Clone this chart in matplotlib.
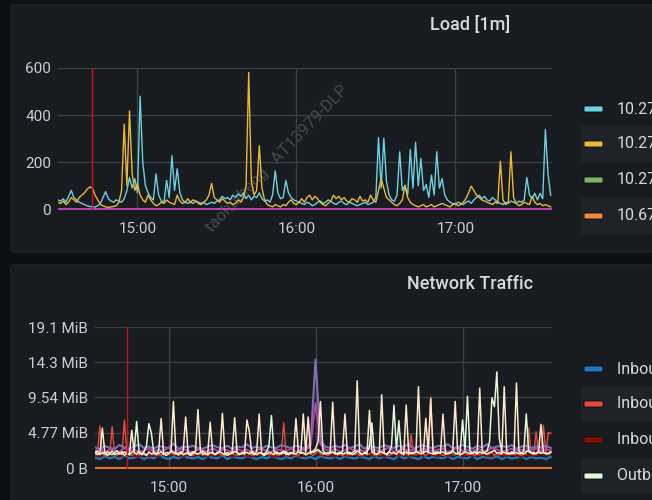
import matplotlib
matplotlib.use("Agg")
import matplotlib.pyplot as plt
from matplotlib.patches import FancyBboxPatch, Rectangle

plt.rcParams['font.family'] = ['Roboto', 'DejaVu Sans']

# ---------------- data ----------------
# time axis in minutes after 14:00
time_ticks = [60, 120, 180]
time_labels = ['15:00', '16:00', '17:00']
annotation_time = 43
x_range = [30, 216.5]

load_times = list(range(30, 217))
load_cyan = [
    40, 35, 45, 30, 55, 80, 50, 40, 30, 25,
    20, 15, 12, 10, 10, 15, 25, 50, 75, 45,
    35, 30, 40, 35, 30, 45, 80, 135, 90, 130,
    70, 480, 200, 100, 70, 50, 40, 150, 60, 35,
    30, 123, 50, 228, 80, 172, 70, 40, 30, 25,
    30, 25, 35, 30, 25, 30, 20, 25, 30, 25,
    35, 40, 55, 45, 50, 40, 60, 50, 65, 55,
    70, 45, 60, 40, 55, 50, 70, 45, 35, 40,
    30, 60, 163, 70, 45, 50, 123, 70, 50, 40,
    35, 30, 25, 20, 30, 25, 15, 20, 30, 35,
    25, 30, 40, 35, 25, 20, 30, 35, 25, 20,
    30, 25, 20, 15, 20, 25, 30, 20, 25, 30,
    50, 305, 90, 302, 120, 60, 40, 35, 60, 244,
    80, 102, 60, 254, 90, 284, 100, 216, 80, 105,
    50, 145, 60, 244, 90, 130, 60, 40, 30, 25,
    20, 30, 25, 20, 30, 35, 25, 40, 50, 60,
    45, 55, 40, 35, 50, 40, 30, 25, 20, 30,
    25, 35, 30, 25, 35, 30, 40, 135, 60, 45,
    68, 40, 68, 45, 339, 150, 60]
load_yellow = [
    30, 25, 35, 20, 30, 50, 40, 30, 50, 60,
    70, 85, 95, 90, 60, 40, 20, 15, 10, 8,
    10, 12, 15, 30, 80, 362, 100, 418, 150, 80,
    110, 60, 40, 30, 60, 40, 25, 15, 20, 30,
    25, 40, 30, 25, 20, 60, 35, 25, 30, 45,
    30, 40, 35, 25, 20, 30, 40, 60, 110, 50,
    40, 30, 45, 35, 25, 30, 20, 25, 40, 30,
    50, 100, 581, 120, 60, 80, 270, 90, 40, 20,
    15, 10, 20, 15, 10, 20, 15, 30, 40, 25,
    20, 30, 45, 30, 50, 60, 40, 55, 45, 30,
    20, 15, 25, 35, 60, 45, 55, 40, 50, 35,
    30, 45, 40, 30, 55, 35, 40, 30, 60, 40,
    30, 80, 130, 90, 50, 40, 30, 20, 15, 25,
    40, 100, 50, 30, 20, 15, 10, 15, 20, 10,
    15, 20, 10, 15, 20, 25, 20, 15, 10, 20,
    25, 15, 20, 30, 45, 70, 98, 80, 60, 50,
    40, 35, 30, 25, 20, 30, 25, 204, 40, 20,
    30, 244, 50, 25, 15, 20, 30, 25, 20, 55,
    30, 20, 25, 15, 20, 15, 10]
flat_times = [30, 60, 90, 120, 150, 180, 216]
load_green = [0, 0, 0, 0, 0, 0, 0]
load_orange = [0, 0, 0, 0, 0, 0, 0]
load_blue = [0.5, 0.5, 0.5, 0.5, 0.5, 0.5, 0.5]
load_pink = [2, 2, 2, 2, 2, 2, 2]
load_yticks = [0, 200, 400, 600]
load_legend = ['10.27.10.21:9100', '10.27.10.22:9100', '10.27.10.23:9100', '10.67.10.24:9100']

# network traffic (MiB/s)
net_times_1m = list(range(30, 217))
net_times_2m = list(range(30, 217, 2))
net_cream = [
    2.2, 1.8, 2.0, 5.4, 2.1, 1.7, 1.9, 2.3, 1.8, 2.0,
    1.9, 2.2, 1.7, 2.0, 1.8, 5.1, 2.1, 1.9, 2.3, 1.8,
    2.0, 1.7, 2.2, 1.9, 2.1, 1.8, 2.4, 6.7, 2.0, 1.7,
    1.9, 2.2, 9.0, 2.1, 1.8, 2.0, 2.3, 6.9, 1.9, 1.7,
    2.0, 2.2, 7.9, 2.4, 1.8, 2.0, 1.9, 6.2, 2.1, 1.8,
    2.0, 2.3, 7.4, 2.0, 1.7, 1.9, 2.2, 6.8, 2.0, 1.8,
    2.1, 1.9, 6.5, 4.9, 2.0, 1.8, 2.2, 7.3, 2.0, 1.7,
    1.9, 2.1, 2.0, 1.8, 2.2, 2.0, 1.9, 2.3, 1.8, 2.0,
    2.1, 1.9, 6.7, 2.2, 2.0, 7.3, 2.1, 6.9, 2.0, 2.3,
    2.6, 3.5, 9.0, 2.4, 2.0, 1.9, 2.2, 8.9, 2.1, 1.8,
    2.0, 2.2, 7.3, 2.0, 1.9, 2.1, 2.3, 11.8, 2.0, 1.8,
    2.1, 1.9, 7.8, 2.2, 2.0, 1.8, 2.1, 9.9, 2.0, 1.9,
    2.2, 2.0, 2.1, 1.9, 2.3, 2.0, 1.8, 8.5, 2.1, 1.9,
    2.0, 2.2, 11.0, 2.3, 2.0, 6.7, 2.1, 9.4, 2.0, 1.9,
    2.2, 2.0, 7.3, 2.1, 1.9, 2.0, 2.3, 9.0, 2.1, 1.8,
    2.0, 2.2, 2.1, 1.9, 2.0, 2.2, 2.1, 10.8, 2.3, 2.0,
    1.9, 2.1, 2.2, 2.4, 2.0, 2.1, 1.9, 11.0, 2.2, 2.0,
    1.9, 2.1, 11.5, 2.3, 2.0, 1.9, 2.2, 2.4, 2.1, 1.9,
    2.0, 2.2, 5.9, 2.1, 2.0, 1.9, 2.1]
net_green = [
    2.0, 2.3, 1.8, 2.1, 1.9, 2.2, 2.0, 1.8, 2.1, 2.3,
    2.0, 1.9, 2.2, 2.0, 1.8, 2.1, 2.3, 6.3, 2.0, 1.9,
    2.2, 3.0, 6.0, 4.7, 2.1, 1.9, 2.0, 2.2, 1.8, 2.1,
    2.0, 2.3, 2.1, 1.9, 2.0, 2.2, 1.8, 2.0, 2.1, 1.9,
    2.2, 2.0, 1.9, 2.1, 2.3, 2.0, 1.8, 2.1, 2.0, 1.9,
    2.1, 2.2, 2.0, 1.8, 2.1, 1.9, 2.0, 2.2, 2.1, 1.9,
    2.0, 2.2, 2.1, 1.9, 2.3, 2.0, 1.8, 2.1, 2.0, 1.9,
    2.2, 3.0, 7.1, 2.3, 2.0, 1.9, 2.1, 2.0, 2.2, 1.8,
    2.1, 2.0, 1.9, 2.2, 2.0, 2.1, 1.8, 2.0, 2.2, 2.1,
    2.3, 2.5, 2.2, 2.0, 1.9, 2.1, 2.0, 2.2, 1.9, 2.0,
    2.1, 1.9, 2.0, 2.2, 2.1, 1.8, 2.0, 2.3, 2.1, 1.9,
    2.0, 2.2, 2.8, 6.1, 2.0, 1.9, 2.1, 2.2, 2.0, 1.8,
    2.1, 3.0, 8.5, 2.4, 6.4, 2.1, 2.0, 2.2, 1.9, 2.1,
    2.0, 2.2, 2.1, 1.9, 2.0, 2.3, 2.1, 2.0, 1.9, 2.2,
    2.0, 2.1, 2.2, 1.9, 2.0, 2.1, 2.3, 2.0, 1.9, 2.1,
    6.5, 2.4, 9.7, 2.3, 2.0, 2.1, 1.9, 2.2, 2.0, 2.1,
    2.3, 3.5, 9.5, 8.3, 13.0, 4.0, 2.2, 2.1, 2.0, 1.9,
    2.2, 2.0, 2.1, 1.9, 2.0, 2.3, 7.3, 2.2, 2.0, 2.1,
    1.9, 2.2, 2.0, 2.1, 1.9, 2.0, 2.2]
net_red = [
    1.8, 2.0, 5.7, 1.9, 1.7, 2.0, 1.8, 5.6, 1.9, 1.7,
    2.0, 1.8, 6.5, 2.1, 1.9, 1.7, 2.0, 1.8, 1.9, 2.1,
    1.8, 1.7, 2.0, 1.9, 1.8, 2.1, 1.9, 1.7, 2.0, 1.8,
    1.9, 2.1, 1.8, 2.0, 1.7, 1.9, 2.0, 1.8, 2.1, 1.9,
    1.7, 2.0, 1.8, 1.9, 2.1, 1.8, 1.7, 2.0, 1.9, 1.8,
    2.0, 1.9, 1.7, 1.8, 2.0, 2.1, 1.9, 1.8, 1.7, 2.0,
    1.9, 1.8, 2.1, 2.0, 1.7, 1.9, 1.8, 2.0, 1.9, 1.7,
    2.0, 1.8, 1.9, 2.1, 1.8, 1.7, 2.0, 6.1, 1.9, 1.8,
    1.9, 2.0, 1.8, 1.7, 2.1, 1.9, 1.8, 2.0, 1.9, 1.7,
    2.0, 2.4, 1.9, 1.8, 2.0, 1.7, 1.9, 2.1, 1.8, 2.0,
    1.9, 1.7, 2.0, 1.8, 1.9, 2.1, 1.8, 2.0, 1.7, 1.9,
    2.0, 1.8, 1.9, 2.1, 1.7, 2.0, 1.8, 1.9, 2.0, 1.8,
    1.7, 1.9, 2.0, 1.8, 2.1, 1.9, 1.8, 2.0, 1.7, 4.5,
    1.9, 1.8, 2.0, 2.1, 1.9, 1.7, 2.0, 9.6, 1.9, 1.8,
    2.0, 1.9, 1.7, 1.8, 2.0, 2.1, 1.9, 1.8, 2.0, 1.7,
    1.9, 2.0, 1.8, 2.1, 1.9, 1.7, 2.0, 1.8, 1.9, 2.0,
    1.8, 1.9, 2.1, 1.7, 2.0, 1.8, 1.9, 2.0, 1.8, 1.9,
    2.0, 1.8, 1.9, 2.1, 1.7, 2.0, 1.9, 5.4, 2.0, 1.8,
    4.9, 2.0, 2.1, 5.8, 1.9, 4.8, 4.7]
net_blue = [
    1.4, 1.2, 1.6, 1.3, 1.5, 1.2, 1.7, 1.3, 1.4, 1.6,
    1.2, 1.5, 1.3, 1.8, 1.4, 1.2, 1.5, 1.3, 1.6, 1.4,
    1.3, 1.5, 1.2, 1.6, 1.4, 1.3, 1.7, 1.2, 1.5, 1.4,
    1.3, 1.6, 1.4, 1.2, 1.5, 1.3, 1.6, 1.4, 1.2, 1.5,
    1.3, 1.7, 1.4, 1.3, 1.5, 1.2, 1.6, 1.4, 1.3, 1.5,
    1.2, 1.6, 1.4, 1.3, 1.5, 1.4, 1.2, 1.6, 1.3, 1.5,
    1.4, 1.2, 1.7, 1.3, 1.5, 1.4, 1.2, 1.6, 1.3, 1.5,
    1.4, 1.3, 1.6, 1.2, 1.5, 1.4, 1.3, 1.7, 1.2, 1.5,
    1.4, 1.3, 1.6, 1.2, 1.5, 1.3, 1.4, 1.6, 1.2, 1.5,
    1.3, 1.4, 1.2, 1.5]
net_darkred = [
    1.7, 1.5, 1.8, 1.6, 1.9, 1.5, 1.7, 1.8, 1.6, 1.5,
    1.8, 1.6, 1.7, 1.5, 1.9, 1.6, 1.8, 1.7, 1.5, 1.8,
    1.6, 1.9, 1.7, 1.5, 1.8, 1.6, 1.7, 1.9, 1.5, 1.7,
    1.8, 1.6, 1.5, 1.8, 1.7, 1.9, 1.6, 1.5, 1.8, 1.7,
    1.6, 1.8, 1.5, 1.7, 1.9, 2.2, 1.8, 1.6, 1.7, 1.5,
    1.8, 1.7, 1.6, 1.9, 1.5, 1.8, 1.7, 1.6, 1.8, 1.5,
    1.7, 1.9, 1.6, 1.8, 1.5, 1.7, 1.8, 1.6, 1.9, 1.7,
    1.5, 1.8, 1.6, 1.7, 1.9, 1.5, 1.8, 1.6, 1.7, 1.8,
    1.6, 1.5, 1.9, 1.7, 1.6, 1.8, 1.7, 1.5, 1.8, 1.6,
    1.7, 1.9, 1.6, 1.8]
net_magenta = [
    2.3, 2.6, 2.1, 2.5, 2.4, 2.2, 2.7, 2.3, 2.5, 2.1,
    2.4, 2.6, 2.2, 2.5, 2.3, 2.8, 2.2, 2.4, 2.6, 2.3,
    2.1, 2.5, 2.4, 2.2, 2.7, 2.3, 2.5, 2.4, 2.2, 2.6,
    2.3, 2.5, 2.1, 2.4, 2.6, 2.3, 2.2, 2.5, 2.4, 2.3,
    2.6, 2.2, 2.5, 2.4, 3.0, 8.8, 3.2, 2.5, 2.3, 2.6,
    2.2, 2.4, 2.7, 2.3, 2.5, 2.2, 2.6, 2.4, 2.3, 2.5,
    2.8, 2.2, 2.4, 2.6, 2.3, 2.5, 2.2, 2.7, 2.4, 2.3,
    2.5, 2.6, 2.2, 2.4, 2.8, 2.3, 2.5, 2.2, 2.6, 2.4,
    2.3, 2.7, 2.5, 2.2, 2.4, 2.6, 2.3, 2.5, 2.2, 2.4,
    2.6, 2.3, 2.5, 2.4]
net_purple = [
    2.8, 2.5, 3.0, 2.7, 2.6, 3.1, 2.8, 2.6, 2.9, 3.2,
    2.7, 2.9, 2.6, 3.0, 2.8, 2.7, 3.3, 2.6, 2.9, 2.8,
    3.0, 2.7, 2.6, 2.9, 3.1, 2.8, 2.7, 3.0, 2.6, 2.9,
    2.8, 3.2, 2.7, 2.9, 2.6, 3.0, 2.8, 2.7, 3.1, 2.9,
    2.7, 3.0, 2.8, 2.6, 3.4, 14.7, 3.6, 2.9, 2.7, 3.0,
    2.8, 3.1, 2.7, 2.9, 3.2, 2.6, 3.0, 2.8, 2.7, 3.1,
    2.9, 2.7, 3.0, 2.8, 3.3, 2.6, 2.9, 3.1, 2.8, 2.7,
    3.0, 2.9, 3.2, 2.7, 2.8, 3.1, 2.9, 2.6, 3.0, 2.8,
    3.2, 2.7, 2.9, 3.0, 2.8, 3.1, 2.6, 2.9, 3.0, 2.7,
    2.9, 2.8, 3.0, 2.7]
net_orange = [0, 0, 0, 0, 0, 0, 0]
net_yticks = [0, 4.768, 9.537, 14.305, 19.073]
net_ylabels = ['0 B', '4.77 MiB', '9.54 MiB', '14.3 MiB', '19.1 MiB']
net_legend = ['Inbound: eth0', 'Inbound: eth1', 'Inbound: lo', 'Outbound: eth0']

# ---------------- style ----------------
W, H = 652, 500
BG = '#0e0f12'
PANEL = '#181b1f'
ROWBG = '#1f2226'
GRID = '#3d4045'
TXT = '#c7d0d9'
TITLE = '#d8d9da'
ANN = '#c4161c'

fig = plt.figure(figsize=(W / 100, H / 100), dpi=100)
fig.patch.set_facecolor(BG)
inch = fig.dpi_scale_trans


def fx(x):
    return x / W


def fy(y):
    return 1 - y / H


def panel(top, bottom):
    p = FancyBboxPatch((11 / 100, (H - bottom) / 100), 7.0, (bottom - top) / 100,
                       boxstyle='round,pad=0,rounding_size=0.03', transform=inch,
                       facecolor=PANEL, edgecolor='#24272c', linewidth=0.8, zorder=-5)
    fig.patches.append(p)


panel(5, 252)
panel(265, 520)

fig.text(fx(470), fy(25), 'Load [1m]', color=TITLE, fontsize=13, fontweight='medium',
         ha='center', va='center')
fig.text(fx(470), fy(284), 'Network Traffic', color=TITLE, fontsize=13, fontweight='medium',
         ha='center', va='center')

# watermark
fig.text(fx(277), fy(159), 'taohuiheng   AT13979-DLP', color='#6a6c70', alpha=0.55,
         fontsize=12, rotation=46, ha='center', va='center', zorder=-1,
         rotation_mode='anchor')


def style_axes(ax):
    ax.set_facecolor('none')
    for s in ax.spines.values():
        s.set_visible(False)
    ax.grid(True, color=GRID, linewidth=0.9)
    ax.set_axisbelow(True)
    ax.tick_params(length=0, colors=TXT, labelsize=11)
    ax.set_xticks(time_ticks)
    ax.set_xticklabels(time_labels)
    ax.set_xlim(*x_range)
    ax.tick_params(axis='x', pad=8.5)
    ax.tick_params(axis='y', pad=5)


# ---- Load panel
ax1 = fig.add_axes([fx(58), fy(210), (552 - 58) / W, (210 - 68) / H])
style_axes(ax1)
ax1.set_ylim(-3, 600)
ax1.set_yticks(load_yticks)
ax1.plot(flat_times, load_green, color='#7EB26D', lw=1.2)
ax1.plot(flat_times, load_orange, color='#EF843C', lw=1.2)
ax1.plot(flat_times, load_blue, color='#1F78C1', lw=1.2)
ax1.plot(flat_times, load_pink, color='#BA43A9', lw=1.4)
ax1.plot(load_times, load_cyan, color='#6ED0E0', lw=1.0)
ax1.plot(load_times, load_yellow, color='#EAB839', lw=1.0)
ax1.axvline(annotation_time, color=ANN, lw=1.0)

# ---- Network panel
ax2 = fig.add_axes([fx(95), fy(469), (552 - 95) / W, (469 - 327) / H])
style_axes(ax2)
ax2.set_ylim(-0.135, 19.0735)
ax2.set_yticks(net_yticks)
ax2.set_yticklabels(net_ylabels)
ax2.plot(flat_times, net_orange, color='#E0752D', lw=1.6)
ax2.plot(net_times_2m, net_blue, color='#1F78C1', lw=1.6)
ax2.plot(net_times_2m, net_darkred, color='#890F02', lw=1.2)
ax2.plot(net_times_1m, net_red, color='#E24D42', lw=1.0)
ax2.plot(net_times_2m, net_purple, color='#806EB7', lw=1.5)
ax2.plot(net_times_2m, net_magenta, color='#BA43A9', lw=1.3)
ax2.plot(net_times_1m, net_green, color='#E0F9D7', lw=1.1)
ax2.plot(net_times_1m, net_cream, color='#FCEACA', lw=1.1)
ax2.axvline(annotation_time, color=ANN, lw=1.0)

# ---- legends
def legend(rows_y, labels, colors):
    for i, (yc, lab, col) in enumerate(zip(rows_y, labels, colors)):
        if i % 2 == 1:
            fig.patches.append(Rectangle((581 / 100, (H - yc - 18) / 100), 1.0, 0.36,
                                         transform=inch, facecolor=ROWBG,
                                         edgecolor='none', zorder=-4))
        fig.patches.append(FancyBboxPatch((584 / 100, (H - yc - 3) / 100), 0.19, 0.06,
                                          boxstyle='round,pad=0,rounding_size=0.015',
                                          transform=inch, facecolor=col,
                                          edgecolor='#0c0d0f', linewidth=0.6, zorder=2))
        fig.text(fx(617), fy(yc), lab, color=TITLE, fontsize=11.5, ha='left', va='center')


legend([109, 144, 180, 216], load_legend, ['#6ED0E0', '#EAB839', '#7EB26D', '#EF843C'])
legend([369, 404, 440, 476], net_legend, ['#1F78C1', '#E24D42', '#890F02', '#E0F9D7'])

fig.savefig('out.png', dpi=100, facecolor=BG)
